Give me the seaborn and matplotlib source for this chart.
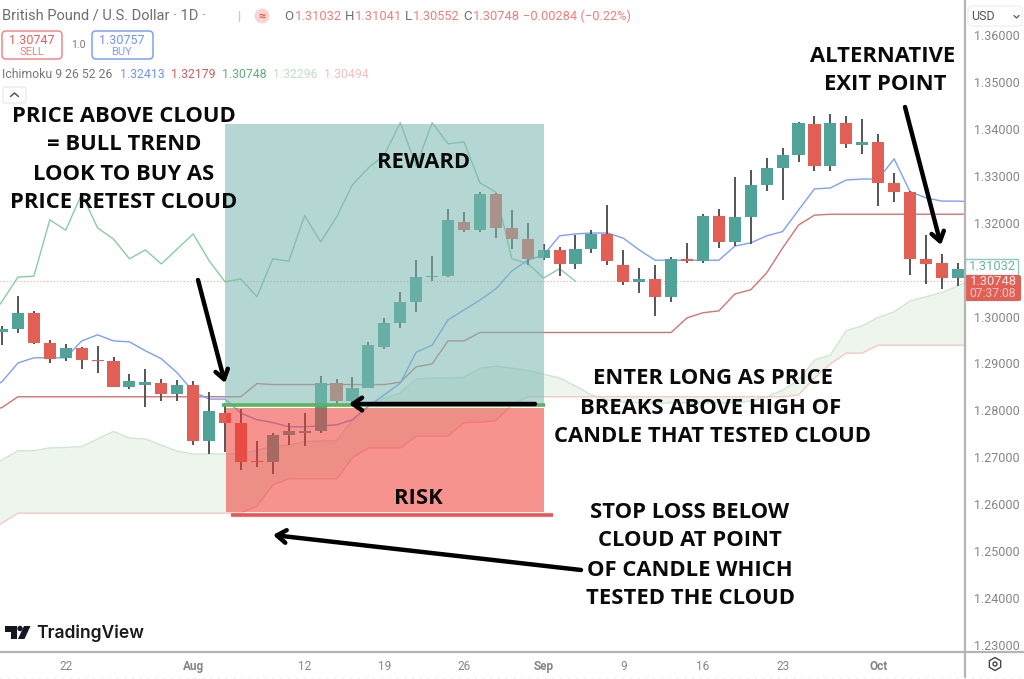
import matplotlib
matplotlib.use("Agg")
import matplotlib.pyplot as plt
import numpy as np
import seaborn as sns
from matplotlib.patches import FancyBboxPatch, Rectangle, Circle, Polygon

sns.set_theme(style="white")
plt.rcParams["font.family"] = ["Open Sans", "DejaVu Sans"]

# Свечи GBP/USD 1D
opens = [1.2967, 1.2973, 1.3008, 1.2944, 1.2912, 1.2933, 1.2907, 1.2906, 1.2850, 1.2854, 1.2859, 1.2835, 1.2855,
         1.2735, 1.2795, 1.2773, 1.2691, 1.2690, 1.2748, 1.2752, 1.2755, 1.2858, 1.2820, 1.2848, 1.2935, 1.2987,
         1.3032, 1.3084, 1.3086, 1.3202, 1.3184, 1.3261, 1.3189, 1.3165, 1.3125, 1.3142, 1.3112, 1.3144, 1.3176,
         1.3110, 1.3074, 1.3080, 1.3042, 1.3123, 1.3118, 1.3215, 1.3159, 1.3212, 1.3281, 1.3317, 1.3344, 1.3411,
         1.3321, 1.3413, 1.3366, 1.3372, 1.3285, 1.3265, 1.3123, 1.3115, 1.3082]
highs = [1.2980, 1.3044, 1.3012, 1.2950, 1.2941, 1.2935, 1.2937, 1.2913, 1.2877, 1.2888, 1.2867, 1.2865, 1.2863,
         1.2840, 1.2816, 1.2803, 1.2735, 1.2752, 1.2773, 1.2794, 1.2873, 1.2867, 1.2871, 1.2946, 1.2997, 1.3052,
         1.3120, 1.3129, 1.3229, 1.3223, 1.3265, 1.3263, 1.3226, 1.3199, 1.3155, 1.3148, 1.3174, 1.3184, 1.3238,
         1.3142, 1.3103, 1.3110, 1.3127, 1.3157, 1.3219, 1.3229, 1.3297, 1.3312, 1.3338, 1.3359, 1.3415, 1.3428,
         1.3432, 1.3427, 1.3421, 1.3389, 1.3306, 1.3267, 1.3174, 1.3133, 1.3114]
lows = [1.2939, 1.2965, 1.2941, 1.2901, 1.2905, 1.2888, 1.2880, 1.2850, 1.2846, 1.2807, 1.2820, 1.2820, 1.2726,
        1.2707, 1.2711, 1.2673, 1.2680, 1.2664, 1.2726, 1.2724, 1.2752, 1.2811, 1.2814, 1.2847, 1.2931, 1.2975,
        1.3010, 1.3076, 1.3084, 1.3180, 1.3180, 1.3167, 1.3144, 1.3110, 1.3120, 1.3087, 1.3101, 1.3135, 1.3110,
        1.3067, 1.3050, 1.3002, 1.3032, 1.3115, 1.3114, 1.3146, 1.3151, 1.3155, 1.3268, 1.3248, 1.3330, 1.3311,
        1.3311, 1.3359, 1.3346, 1.3236, 1.3245, 1.3089, 1.3069, 1.3059, 1.3064]
closes = [1.2973, 1.3008, 1.2944, 1.2910, 1.2933, 1.2907, 1.2906, 1.2850, 1.2863, 1.2860, 1.2835, 1.2855, 1.2735,
          1.2799, 1.2773, 1.2691, 1.2690, 1.2748, 1.2757, 1.2755, 1.2859, 1.2821, 1.2848, 1.2939, 1.2987, 1.3032,
          1.3084, 1.3086, 1.3206, 1.3184, 1.3261, 1.3189, 1.3165, 1.3123, 1.3142, 1.3112, 1.3144, 1.3176, 1.3119,
          1.3074, 1.3080, 1.3042, 1.3123, 1.3118, 1.3215, 1.3159, 1.3212, 1.3281, 1.3317, 1.3344, 1.3413, 1.3321,
          1.3413, 1.3368, 1.3372, 1.3285, 1.3265, 1.3123, 1.3113, 1.3082, 1.3102]

# Линии Ichimoku, по бару за краями графика с обеих сторон
tenkan = [1.2843, 1.2861, 1.2901, 1.2912, 1.2912, 1.2912, 1.2948, 1.2961, 1.2948, 1.2946, 1.2927, 1.2910, 1.2880,
          1.2840, 1.2824, 1.2824, 1.2794, 1.2780, 1.2774, 1.2765, 1.2765, 1.2767, 1.2769, 1.2780, 1.2809, 1.2833,
          1.2858, 1.2924, 1.2939, 1.2993, 1.3014, 1.3035, 1.3059, 1.3097, 1.3120, 1.3131, 1.3172, 1.3176, 1.3178,
          1.3178, 1.3167, 1.3142, 1.3120, 1.3120, 1.3120, 1.3120, 1.3120, 1.3150, 1.3157, 1.3172, 1.3181, 1.3227,
          1.3272, 1.3274, 1.3291, 1.3293, 1.3293, 1.3336, 1.3266, 1.3253, 1.3246, 1.3246, 1.3244]
kijun = [1.2797, 1.2806, 1.2829, 1.2829, 1.2829, 1.2829, 1.2829, 1.2829, 1.2829, 1.2829, 1.2829, 1.2829, 1.2829,
         1.2829, 1.2829, 1.2829, 1.2829, 1.2857, 1.2855, 1.2855, 1.2855, 1.2855, 1.2855, 1.2855, 1.2855, 1.2855,
         1.2860, 1.2893, 1.2899, 1.2948, 1.2948, 1.2966, 1.2966, 1.2966, 1.2966, 1.2966, 1.2966, 1.2966, 1.2966,
         1.2966, 1.2966, 1.2966, 1.2966, 1.2966, 1.2997, 1.3008, 1.3012, 1.3048, 1.3057, 1.3093, 1.3146, 1.3195,
         1.3216, 1.3218, 1.3218, 1.3218, 1.3218, 1.3218, 1.3218, 1.3218, 1.3218, 1.3218, 1.3218]
chikou = [1.2987, 1.3032, 1.3084, 1.3086, 1.3206, 1.3184, 1.3261, 1.3189, 1.3165, 1.3123, 1.3142, 1.3112, 1.3144,
          1.3176, 1.3119, 1.3074, 1.3080, 1.3042, 1.3123, 1.3118, 1.3215, 1.3159, 1.3212, 1.3281, 1.3317, 1.3344,
          1.3413, 1.3321, 1.3413, 1.3368, 1.3372, 1.3285, 1.3265, 1.3123, 1.3113, 1.3082, 1.3102, 1.3075]
senkou_a = [1.2673, 1.2694, 1.2714, 1.2714, 1.2720, 1.2721, 1.2723, 1.2739, 1.2755, 1.2741, 1.2739, 1.2726, 1.2713,
            1.2707, 1.2707, 1.2707, 1.2707, 1.2715, 1.2723, 1.2726, 1.2733, 1.2735, 1.2735, 1.2780, 1.2807, 1.2826,
            1.2837, 1.2867, 1.2869, 1.2869, 1.2870, 1.2890, 1.2894, 1.2890, 1.2885, 1.2877, 1.2869, 1.2852, 1.2833,
            1.2822, 1.2818, 1.2816, 1.2816, 1.2816, 1.2816, 1.2816, 1.2816, 1.2816, 1.2820, 1.2829, 1.2843, 1.2865,
            1.2907, 1.2918, 1.2970, 1.2980, 1.2998, 1.3010, 1.3033, 1.3042, 1.3051, 1.3065, 1.3082]
senkou_b = [1.2534, 1.2560, 1.2581, 1.2581, 1.2581, 1.2581, 1.2581, 1.2581, 1.2581, 1.2581, 1.2581, 1.2581, 1.2581,
            1.2581, 1.2581, 1.2581, 1.2581, 1.2596, 1.2641, 1.2654, 1.2654, 1.2654, 1.2654, 1.2699, 1.2720, 1.2720,
            1.2720, 1.2745, 1.2745, 1.2745, 1.2774, 1.2775, 1.2778, 1.2811, 1.2829, 1.2829, 1.2829, 1.2829, 1.2829,
            1.2829, 1.2829, 1.2829, 1.2829, 1.2829, 1.2829, 1.2829, 1.2829, 1.2829, 1.2829, 1.2829, 1.2829, 1.2833,
            1.2869, 1.2899, 1.2922, 1.2922, 1.2939, 1.2939, 1.2939, 1.2939, 1.2939, 1.2939, 1.2939]

last_price = 1.30748

# Подписи осей
price_ticks = [1.23, 1.24, 1.25, 1.26, 1.27, 1.28, 1.29, 1.30, 1.32, 1.33, 1.34, 1.35, 1.36]
date_ticks = [4, 12, 19, 24, 29, 34, 39, 44, 49, 55]
date_labels = ["22", "Aug", "12", "19", "26", "Sep", "9", "16", "23", "Oct"]
month_labels = ["Aug", "Sep", "Oct"]

# Зоны сделки
reward_zone = (14.0, 34.0, 1.2811, 1.3410)
risk_zone = (14.05, 34.0, 1.2583, 1.2805)
entry_line = (13.8, 34.1, 1.2811)
stop_line = (14.4, 34.6, 1.2577)

GREEN = "#4fa398"
RED = "#e25f56"
WICK = "#555555"
GREY = "#858585"

fig = plt.figure(figsize=(10.24, 6.79), dpi=100)
fig.patch.set_facecolor("white")
ax = fig.add_axes([0, 27 / 679, 965 / 1024, 652 / 679])
ax.set_facecolor("white")

bars = np.arange(len(opens))
line_bars = np.arange(-1, len(opens) + 1)
chikou_bars = np.arange(-1, len(chikou) - 1)

ax.fill_between(line_bars, senkou_a, senkou_b, color="#edf5ed", lw=0, zorder=1)
ax.axhline(last_price, color="#e9a3a0", lw=0.8, ls=(0, (1, 2)), zorder=1.5)

sns.lineplot(x=line_bars, y=senkou_a, color="#cfe6d3", lw=1, ax=ax, zorder=2, legend=False)
sns.lineplot(x=line_bars, y=senkou_b, color="#f5c9c6", lw=1, ax=ax, zorder=2, legend=False)
sns.lineplot(x=chikou_bars, y=chikou, color="#8ccb9e", lw=1, ax=ax, zorder=2, legend=False)
sns.lineplot(x=line_bars, y=kijun, color="#cf7573", lw=1, ax=ax, zorder=2, legend=False)
sns.lineplot(x=line_bars, y=tenkan, color="#7d9ff6", lw=1, ax=ax, zorder=2, legend=False)

# Свечи рисуем поверх линий
colors = [GREEN if c >= o else RED for o, c in zip(opens, closes)]
ax.vlines(bars, lows, highs, color=WICK, lw=1.4, zorder=3)
body_low = np.minimum(opens, closes)
body_h = np.maximum(np.abs(np.array(closes) - np.array(opens)), 0.0002)
ax.bar(bars, body_h, bottom=body_low, width=0.76, color=colors, lw=0, zorder=4)

# Зоны прибыли и риска
ax.add_patch(Rectangle((reward_zone[0], reward_zone[2]), reward_zone[1] - reward_zone[0],
                       reward_zone[3] - reward_zone[2], color="#7db9b2", alpha=0.57, lw=0, zorder=5))
ax.add_patch(Rectangle((risk_zone[0], risk_zone[2]), risk_zone[1] - risk_zone[0],
                       risk_zone[3] - risk_zone[2], color="#ef3e37", alpha=0.555, lw=0, zorder=5))
ax.hlines(entry_line[2], entry_line[0], entry_line[1], color="#57b560", lw=2.6, zorder=6)
ax.hlines(stop_line[2], stop_line[0], stop_line[1], color="#ef5350", lw=2.6, zorder=6)

ax.set_xlim(-0.1255, 60.45)
ax.set_ylim(1.36746 - 652 * 0.00021313, 1.36746)
ax.yaxis.tick_right()
ax.set_yticks(price_ticks)
ax.set_yticklabels([f"{p:.5f}" for p in price_ticks], fontsize=9, color=GREY, family="Roboto")
ax.set_xticks(date_ticks)
ax.set_xticklabels(date_labels, fontsize=8.5, color=GREY, family="Roboto")
for lab in ax.get_xticklabels():
    if lab.get_text() in month_labels:
        lab.set_fontweight("bold")
ax.tick_params(axis="both", length=0)
ax.tick_params(axis="y", pad=6.5)
ax.tick_params(axis="x", pad=6)
sns.despine(ax=ax, top=True, left=True, right=True, bottom=True)

# Оверлей в пикселях: шапка, плашки, стрелки, подписи
ov = fig.add_axes([0, 0, 1, 1], zorder=10)
ov.set_xlim(0, 1024)
ov.set_ylim(679, 0)
ov.axis("off")
ov.patch.set_alpha(0)

ov.plot([965, 965], [0, 677], color="#b4b4b4", lw=1.6)
ov.plot([0, 1024], [652, 652], color="#b4b4b4", lw=1.6)
ov.plot([0, 1024], [677.5, 677.5], color="#e4e4e4", lw=0.8, ls=(0, (1, 6)))

UI = "Roboto"
PALE_RED = "#ef7f7a"


def ui_text(x, y, s, color=GREY, size=9.5, ha="left", **kw):
    ov.text(x, y, s, color=color, fontsize=size, ha=ha, va="center", family=UI, **kw)


ui_text(2, 16, "British Pound / U.S. Dollar · 1D ·", color="#6e6e6e", size=10.5)
ov.plot([239, 239], [11, 21], color="#cccccc", lw=1)
ov.add_patch(Circle((262, 16), 7.5, color="#f7d5d3", lw=0))
ui_text(262, 16, "≈", color="#e0605a", size=9, ha="center", fontweight="bold")
for x, s in [(284, "O"), (345, "H"), (405, "L"), (463, "C")]:
    ui_text(x, 16, s, color="#6e6e6e", size=9.5)
for x, s in [(295, "1.31032"), (355, "1.31041"), (413, "1.30552"), (473, "1.30748"),
             (523, "−0.00284 (−0.22%)")]:
    ui_text(x, 16, s, color=PALE_RED, size=9.3)

ov.add_patch(FancyBboxPatch((2, 31), 60, 28, boxstyle="round,pad=0,rounding_size=4",
                            fc="white", ec="#ef8a85", lw=1.1))
ov.add_patch(FancyBboxPatch((92, 31), 61, 28, boxstyle="round,pad=0,rounding_size=4",
                            fc="white", ec="#7f9ff5", lw=1.1))
ui_text(32, 40, "1.30747", color="#e8605a", size=9, ha="center")
ui_text(32, 52, "SELL", color="#ef7f7a", size=8, ha="center")
ui_text(122, 40, "1.30757", color="#6f94f0", size=9, ha="center")
ui_text(122, 52, "BUY", color="#7f9ff5", size=8, ha="center")
ui_text(78, 45, "1.0", color="#777777", size=7.5, ha="center")

ui_text(2, 74, "Ichimoku 9 26 52 26", color="#777777", size=8.8)
for x, s, c in [(120, "1.32413", "#6f94f0"), (171, "1.32179", "#c9605e"), (222, "1.30748", "#5fae74"),
                (273, "1.32296", "#c0dfc6"), (324, "1.30494", "#f2c0bd")]:
    ui_text(x, 74, s, color=c, size=8.8)

ov.add_patch(FancyBboxPatch((3, 87), 23, 16, boxstyle="round,pad=0,rounding_size=2",
                            fc="white", ec="#e6e6e6", lw=0.8, zorder=1))
ov.plot([10.5, 14.5, 18.5], [96.5, 93, 96.5], color="#555555", lw=1.1)

# Блок USD
ov.add_patch(FancyBboxPatch((968, 6), 54, 20, boxstyle="round,pad=0,rounding_size=3",
                            fc="white", ec="#eeeeee", lw=0.8))
ui_text(971, 17, "USD", color="#555555", size=9)
ov.plot([1014, 1016.5, 1019], [15.5, 18, 15.5], color="#555555", lw=0.9)

# Ценовые плашки
ov.add_patch(Rectangle((965, 259), 53, 16, fc="white", ec="#8cc7bd", lw=1))
ui_text(992, 267, "1.31032", color="#67b3a6", size=9.3, ha="center")
ov.add_patch(FancyBboxPatch((965, 275), 56, 26, boxstyle="round,pad=0,rounding_size=2",
                            fc="#e25f56", ec="none"))
ui_text(993, 281.5, "1.30748", color="#fbe4e2", size=9.3, ha="center")
ui_text(993, 293.5, "07:37:08", color="#f8c6c2", size=8.7, ha="center")

# Шестерёнка настроек
hex_t = np.linspace(0, 2 * np.pi, 7)
ov.add_patch(Polygon(np.c_[995 + 6.5 * np.sin(hex_t), 664 + 6.5 * np.cos(hex_t)], fc="white", ec="#444444", lw=1))
ov.add_patch(Circle((995, 664), 2, fc="white", ec="#444444", lw=1))

# Логотип TradingView
ov.add_patch(Polygon([(5, 626), (17, 626), (17, 639), (10.5, 639), (10.5, 631.5), (5, 631.5)], fc="#131722", lw=0))
ov.add_patch(Circle((20, 628.5), 2.7, fc="#131722", lw=0))
ov.add_patch(Polygon([(24, 626), (30.5, 626), (24.5, 639), (18, 639)], fc="#131722", lw=0))
ov.text(36, 633.5, "TradingView", color="#1a1a1a", fontsize=12.6, va="center", family="Inter", fontweight="semibold")

# Стрелки
arrow_kw = dict(arrowstyle="->,head_length=0.55,head_width=0.38", color="black", lw=3.2, shrinkA=0, shrinkB=0)
for tail, tip in [((198, 280), (225, 383)), ((535, 404), (349, 404)),
                  ((581, 570), (273, 535)), ((905, 107), (941, 245))]:
    ov.annotate("", xy=tip, xytext=tail, arrowprops=arrow_kw)

# Подписи
labels = [(124, 116, "PRICE ABOVE CLOUD"), (124, 145, "= BULL TREND"), (124, 174, "LOOK TO BUY AS"),
          (124, 203, "PRICE RETEST CLOUD"), (424, 162, "REWARD"), (418, 499, "RISK"),
          (883, 56, "ALTERNATIVE"), (885, 85, "EXIT POINT"),
          (713, 379, "ENTER LONG AS PRICE"), (711, 408, "BREAKS ABOVE HIGH OF"),
          (713, 437, "CANDLE THAT TESTED CLOUD"),
          (690, 512, "STOP LOSS BELOW"), (690, 541, "CLOUD AT POINT"),
          (690, 570, "OF CANDLE WHICH"), (690, 599, "TESTED THE CLOUD")]
for x, y, s in labels:
    ov.text(x, y, s, color="#0a0a0a", fontsize=15.8, fontweight="bold", ha="center", va="center",
            family="Open Sans")

plt.savefig("out.png", dpi=100)
plt.close()
